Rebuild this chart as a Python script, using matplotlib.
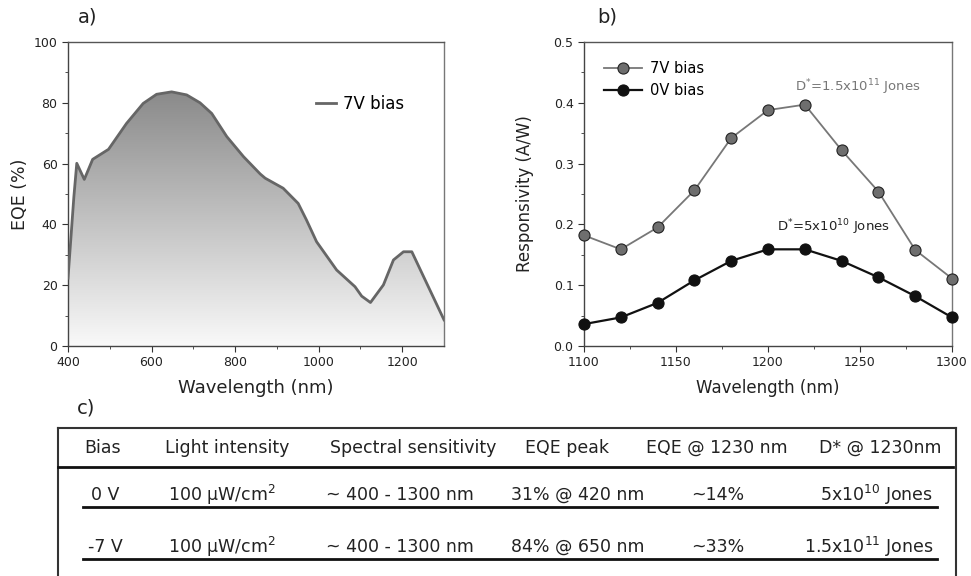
import numpy as np
import matplotlib
matplotlib.use("Agg")
import matplotlib.pyplot as plt
from matplotlib.colors import LinearSegmentedColormap

plt.rcParams['font.family'] = ['DejaVu Sans']
plt.rcParams['mathtext.fontset'] = 'dejavusans'

# ---------------- data ----------------
eqe_wl = [400, 414, 421, 439, 459, 497, 540, 580, 612, 648, 684, 716, 744, 780,
          820, 860, 872, 915, 951, 971, 995, 1043, 1087, 1103, 1124, 1155, 1179,
          1203, 1223, 1300]
eqe_7v = [22.3, 49.0, 60.1, 54.8, 61.4, 64.7, 73.2, 79.8, 82.8, 83.6, 82.6, 80.0,
          76.5, 68.9, 62.3, 56.6, 55.2, 51.9, 46.9, 41.4, 34.3, 25.0, 19.5, 16.4,
          14.3, 20.1, 28.3, 31.0, 31.0, 8.6]

resp_wl = [1100, 1120, 1140, 1160, 1180, 1200, 1220, 1240, 1260, 1280, 1300]
resp_7v = [0.182, 0.159, 0.195, 0.256, 0.342, 0.388, 0.397, 0.322, 0.254, 0.158, 0.111]
resp_0v = [0.036, 0.047, 0.071, 0.108, 0.140, 0.159, 0.159, 0.140, 0.113, 0.082, 0.047]

table_headers = ["Bias", "Light intensity", "Spectral sensitivity", "EQE peak",
                 "EQE @ 1230 nm", "D* @ 1230nm"]
row_bias = ["0 V", "-7 V"]
row_intensity = [r"100 $\mathrm{\mu}$W/cm$^2$", r"100 $\mathrm{\mu}$W/cm$^2$"]
row_spectral = ["~ 400 - 1300 nm", "~ 400 - 1300 nm"]
row_peak = ["31% @ 420 nm", "84% @ 650 nm"]
row_eqe1230 = ["~14%", "~33%"]
row_dstar = [r"5x10$^{10}$ Jones", r"1.5x10$^{11}$ Jones"]

# ---------------- figure ----------------
W, H = 971, 576
fig = plt.figure(figsize=(W / 100, H / 100), dpi=100)

def style_axes(ax):
    for s in ax.spines.values():
        s.set_color('#444444')
        s.set_linewidth(1.0)
    ax.spines['right'].set_color('#777777')
    ax.spines['top'].set_color('#555555')
    ax.tick_params(which='both', direction='out', colors='#333333', labelsize=9,
                   labelcolor='#222222')
    ax.tick_params(which='major', length=4)
    ax.tick_params(which='minor', length=2.5)

# ---- panel a ----
axa = fig.add_axes([68 / W, 1 - 346 / H, (444 - 68) / W, (346 - 42) / H])
axa.set_xlim(400, 1300)
axa.set_ylim(0, 100)
poly = axa.fill_between(eqe_wl, eqe_7v, 0, color='none', lw=0)
cmap = LinearSegmentedColormap.from_list('g', ['#f9f9f9', '#8a8a8a'])
grad = np.linspace(0, 1, 256).reshape(-1, 1)
im = axa.imshow(grad, extent=[400, 1300, 0, max(eqe_7v)], origin='lower',
                aspect='auto', cmap=cmap, zorder=1)
im.set_clip_path(poly.get_paths()[0], transform=axa.transData)
axa.plot(eqe_wl, eqe_7v, color='#666666', lw=2, zorder=3, label='7V bias',
         solid_joinstyle='round')
axa.set_xticks([400, 600, 800, 1000, 1200])
axa.set_xticks([500, 700, 900, 1100], minor=True)
axa.set_yticks([0, 20, 40, 60, 80, 100])
axa.set_yticks([10, 30, 50, 70, 90], minor=True)
style_axes(axa)
axa.set_xlabel('Wavelength (nm)', fontsize=13, color='#222222', labelpad=7)
axa.set_ylabel('EQE (%)', fontsize=12.5, color='#222222', labelpad=3.5)
axa.legend(loc='upper left', bbox_to_anchor=(0.62, 0.875), frameon=False,
           fontsize=12, handlelength=1.2, handletextpad=0.4)

# ---- panel b ----
axb = fig.add_axes([584 / W, 1 - 346 / H, (952 - 584) / W, (346 - 42) / H])
axb.set_xlim(1100, 1300)
axb.set_ylim(0, 0.5)
axb.plot(resp_wl, resp_7v, color='#777777', lw=1.3, marker='o', ms=8,
         mfc='#6e6e6e', mec='#222222', mew=0.8, label='7V bias', zorder=3,
         clip_on=False)
axb.plot(resp_wl, resp_0v, color='#111111', lw=1.6, marker='o', ms=8,
         mfc='#111111', mec='#111111', mew=0.8, label='0V bias', zorder=3,
         clip_on=False)
axb.set_xticks([1100, 1150, 1200, 1250, 1300])
axb.set_xticks([1125, 1175, 1225, 1275], minor=True)
axb.set_yticks([0.0, 0.1, 0.2, 0.3, 0.4, 0.5])
axb.set_yticks([0.05, 0.15, 0.25, 0.35, 0.45], minor=True)
axb.yaxis.set_major_formatter(matplotlib.ticker.FormatStrFormatter('%.1f'))
style_axes(axb)
axb.set_xlabel('Wavelength (nm)', fontsize=12, color='#222222', labelpad=7)
axb.set_ylabel('Responsivity (A/W)', fontsize=12, color='#222222', labelpad=14)
axb.legend(loc='upper left', bbox_to_anchor=(0.02, 0.98), frameon=False,
           fontsize=10.5, handlelength=2.6, handletextpad=0.5, labelspacing=0.5)
axb.text(1214.5, 0.426, r'D$^{*}$=1.5x10$^{11}$ Jones', fontsize=9.5,
         color='#777777', va='center', ha='left')
axb.text(1205, 0.196, r'D$^{*}$=5x10$^{10}$ Jones', fontsize=9.5,
         color='#222222', va='center', ha='left')

# panel labels
fig.text(78 / W, 1 - 17 / H, 'a)', fontsize=14, color='#222222', va='center')
fig.text(597 / W, 1 - 17 / H, 'b)', fontsize=14, color='#222222', va='center')
fig.text(77 / W, 1 - 408 / H, 'c)', fontsize=14, color='#222222', va='center')

# ---- table (panel c) ----
axt = fig.add_axes([0, 0, 1, 1], zorder=-1)
axt.set_xlim(0, W)
axt.set_ylim(H, 0)
axt.axis('off')
axt.plot([58, 956], [428, 428], color='#333333', lw=1.5)
axt.plot([58, 58], [428, H + 5], color='#333333', lw=1.5)
axt.plot([956, 956], [428, H + 5], color='#333333', lw=1.5)
axt.plot([58, 953], [467, 467], color='#111111', lw=2)
axt.plot([83, 937], [507, 507], color='#111111', lw=2)
axt.plot([83, 937], [559, 559], color='#111111', lw=2)

hx = [103, 227, 413, 567, 717, 880]
for x, t in zip(hx, table_headers):
    axt.text(x, 448, t, fontsize=12.5, ha='center', va='center', color='#222222')

row_y = [495, 547]
cols = [row_bias, row_intensity, row_spectral, row_peak, row_eqe1230]
cx = [105, 222, 400, 578, 718]
for i, y in enumerate(row_y):
    for x, col in zip(cx, cols):
        axt.text(x, y, col[i], fontsize=12.5, ha='center', va='center', color='#222222')
    axt.text(933, y, row_dstar[i], fontsize=12.5, ha='right', va='center', color='#222222')

fig.savefig('out.png', dpi=100)
